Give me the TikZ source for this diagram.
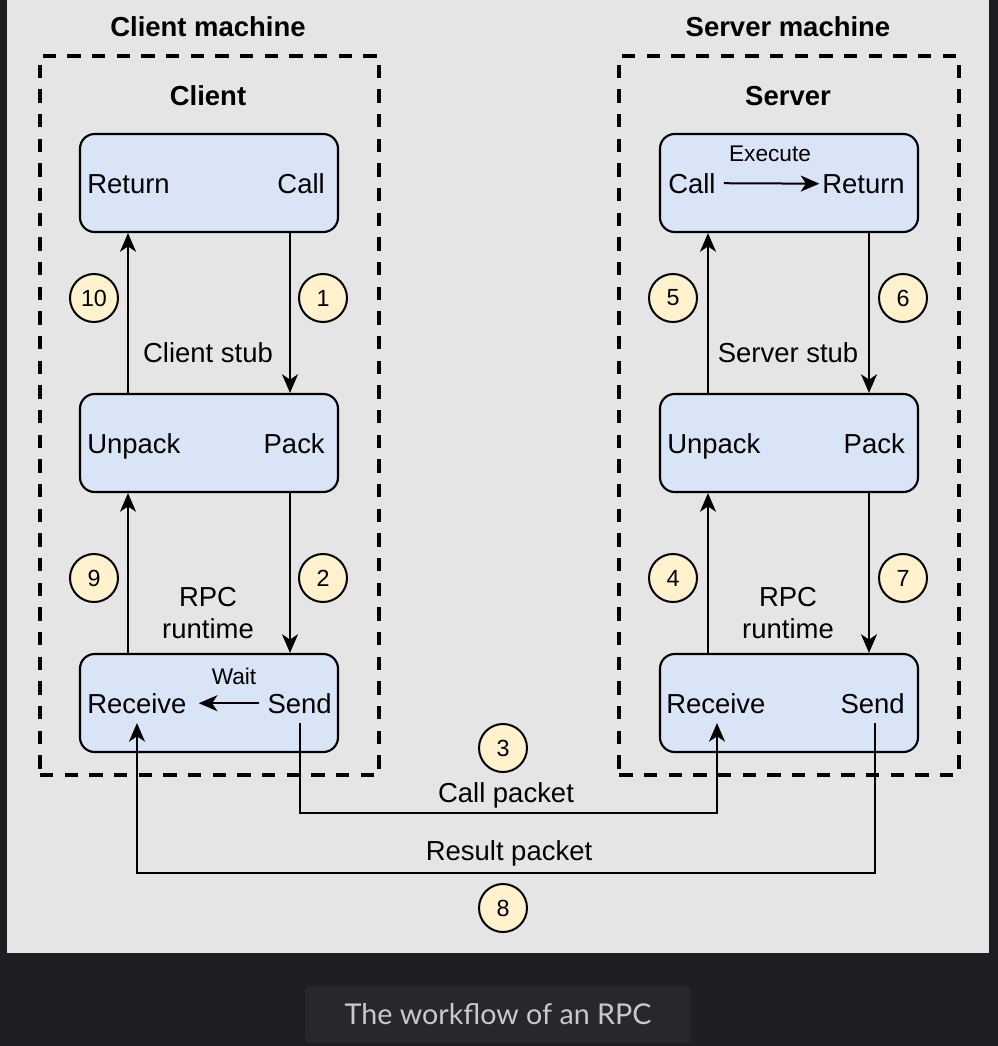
\documentclass[tikz,border=0pt]{standalone}
\usepackage{fontspec}
\setmainfont{Liberation Sans}
\newfontfamily\capfont{Lato}
\usetikzlibrary{arrows.meta}
\definecolor{outerbg}{HTML}{1E1F22}
\definecolor{panel}{HTML}{E5E5E6}
\definecolor{boxfill}{HTML}{D9E5F6}
\definecolor{numfill}{HTML}{FFF2CC}
\definecolor{capbox}{HTML}{27282C}
\definecolor{captext}{HTML}{C8C9CC}
\begin{document}
\begin{tikzpicture}[x=0.75pt,y=-0.75pt,
 stagebox/.style={draw=black,line width=1.6pt,fill=boxfill,rounded corners=11pt,minimum width=193.5pt,minimum height=73.5pt,inner sep=0pt},
 machine/.style={draw=black,line width=3pt,dash pattern=on 10pt off 8.5pt,minimum width=254.6pt,minimum height=538.9pt,inner sep=0pt},
 lbl/.style={font=\fontsize{20.6pt}{24pt}\selectfont,inner sep=0pt},
 small/.style={font=\fontsize{17pt}{20pt}\selectfont,inner sep=0pt},
 ttl/.style={font=\fontsize{20.6pt}{24pt}\selectfont\bfseries,inner sep=0pt},
 num/.style={circle,draw=black,line width=1.5pt,fill=numfill,minimum size=36pt,inner sep=0pt,font=\fontsize{17.5pt}{20pt}\selectfont},
 conn/.style={line width=1.5pt,-{Stealth[length=14pt,width=12pt,inset=4pt]}},
 plainline/.style={line width=1.5pt}]
% backgrounds
\fill[outerbg] (0,0) rectangle (998,1046);
\useasboundingbox (0,0) rectangle (998,1046);
\fill[panel] (7,0) rectangle (989,953);
\fill[capbox,rounded corners=4.5pt] (305,986) rectangle (691,1043);
\node[anchor=base,inner sep=0pt,text=captext,font=\capfont\fontsize{21.5pt}{26pt}\selectfont] (cap) at (498,1024) {The workflow of an RPC};

% machines
\node[machine] (cm) at (209.75,415.25) {};
\node[machine] (sm) at (789,415.25) {};
\node[ttl,anchor=base] (cmt) at (208,36) {Client machine};
\node[ttl,anchor=base] (smt) at (788,36) {Server machine};
\node[ttl,anchor=base] (ct) at (208,105) {Client};
\node[ttl,anchor=base] (st) at (788,105) {Server};

% client boxes
\node[stagebox] (ctop) at (209,183) {};
\node[stagebox] (cmid) at (209,443) {};
\node[stagebox] (cbot) at (209,703) {};
% server boxes
\node[stagebox] (stop) at (789,183) {};
\node[stagebox] (smid) at (789,443) {};
\node[stagebox] (sbot) at (789,703) {};

% client texts
\node[lbl,anchor=base west] (cret) at (87,193) {Return};
\node[lbl,anchor=base east] (ccall) at (325,193) {Call};
\node[lbl,anchor=base west] (cunp) at (87,453) {Unpack};
\node[lbl,anchor=base east] (cpack) at (325,453) {Pack};
\node[lbl,anchor=base west] (crecv) at (87,713) {Receive};
\node[lbl,anchor=base east] (csend) at (332,713) {Send};
\node[small,anchor=base] (cwait) at (234,684) {Wait};
\node[lbl,anchor=base] (cstub) at (208,362) {Client stub};
\node[lbl,anchor=base] (crpc) at (208,606) {RPC};
\node[lbl,anchor=base] (crun) at (208,638) {runtime};

% server texts
\node[lbl,anchor=base west] (scall) at (668,193) {Call};
\node[lbl,anchor=base east] (sret) at (905,193) {Return};
\node[small,anchor=base] (sexec) at (770,161) {Execute};
\node[lbl,anchor=base west] (sunp) at (667,453) {Unpack};
\node[lbl,anchor=base east] (spack) at (905,453) {Pack};
\node[lbl,anchor=base west] (srecv) at (666,713) {Receive};
\node[lbl,anchor=base east] (ssend) at (905,713) {Send};
\node[lbl,anchor=base] (sstub) at (788,362) {Server stub};
\node[lbl,anchor=base] (srpc) at (788,606) {RPC};
\node[lbl,anchor=base] (srun) at (788,638) {runtime};

% packet labels
\node[lbl,anchor=base] (callp) at (506,802) {Call packet};
\node[lbl,anchor=base] (resp) at (509,860) {Result packet};

% numbers
\node[num] (n10) at (94,298) {10};
\node[num] (n1) at (323,298) {1};
\node[num] (n9) at (94,578) {9};
\node[num] (n2) at (323,578) {2};
\node[num] (n5) at (673,298) {5};
\node[num] (n6) at (903,298) {6};
\node[num] (n4) at (673,578) {4};
\node[num] (n7) at (903,578) {7};
\node[num] (n3) at (503,748) {3};
\node[num] (n8) at (503,908) {8};

% inner arrows
\draw[conn,shorten <=6pt,shorten >=9pt] (csend.west) -- (crecv.east);
\draw[conn,shorten <=6pt,shorten >=2pt] (scall.east) -- (sret.west);

% client vertical connectors
\draw[conn] ([xshift=60.75pt]ctop.south) -- ([xshift=60.75pt]cmid.north);
\draw[conn] ([xshift=60.75pt]cmid.south) -- ([xshift=60.75pt]cbot.north);
\draw[conn] ([xshift=-60.75pt]cbot.north) -- ([xshift=-60.75pt]cmid.south);
\draw[conn] ([xshift=-60.75pt]cmid.north) -- ([xshift=-60.75pt]ctop.south);
% server vertical connectors
\draw[conn] ([xshift=-60.75pt]sbot.north) -- ([xshift=-60.75pt]smid.south);
\draw[conn] ([xshift=-60.75pt]smid.north) -- ([xshift=-60.75pt]stop.south);
\draw[conn] ([xshift=60pt]stop.south) -- ([xshift=60pt]smid.north);
\draw[conn] ([xshift=60pt]smid.south) -- ([xshift=60pt]sbot.north);

% packets
\draw[conn] ([shift={(91,20)}]cbot.center) -- ++(0,90) -| ([shift={(-72,20)}]sbot.center);
\draw[conn] ([shift={(86,20)}]sbot.center) -- ++(0,150) -| ([shift={(-72,20)}]cbot.center);
\end{tikzpicture}
\end{document}
